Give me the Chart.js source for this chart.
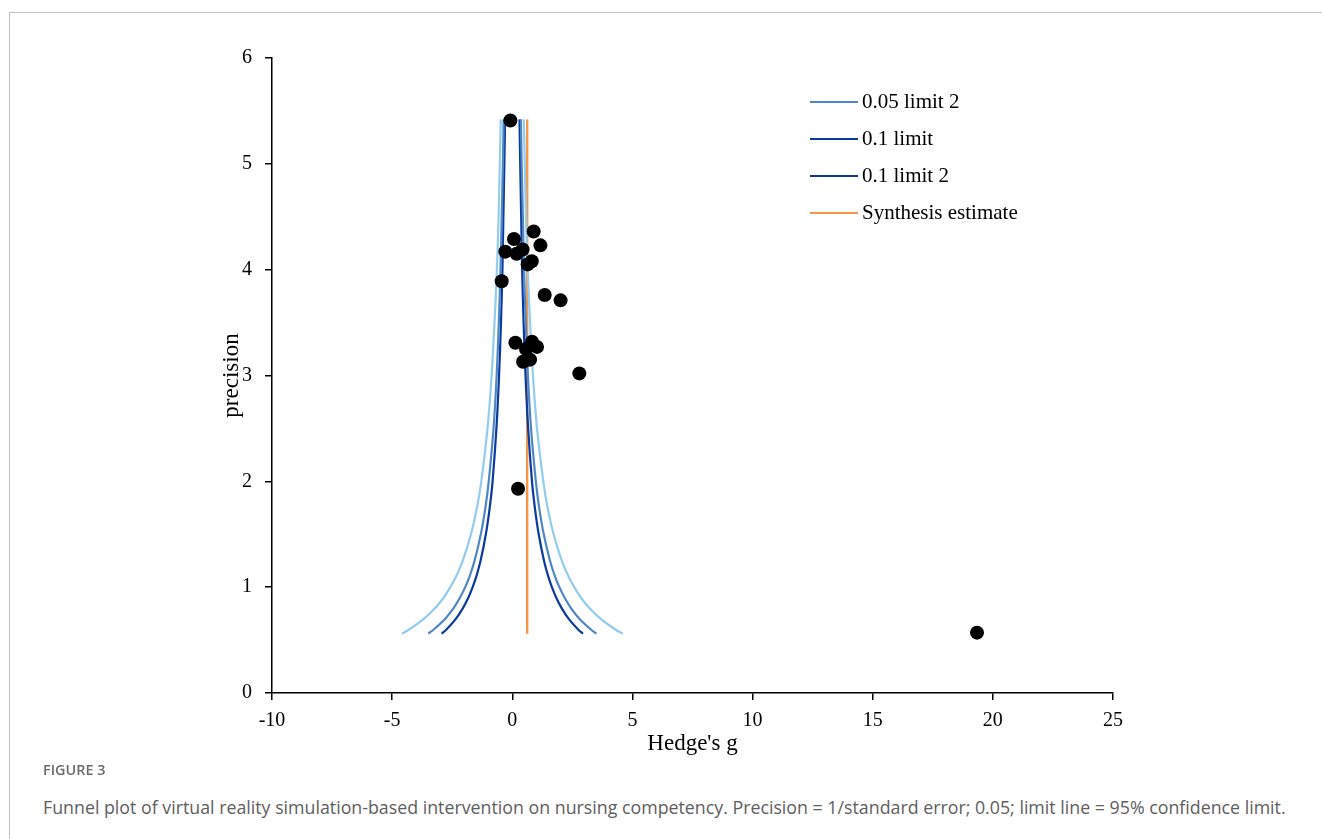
<!DOCTYPE html>
<html>
<head>
<meta charset="utf-8">
<script src="https://cdn.jsdelivr.net/npm/chart.js@4.4.1/dist/chart.umd.min.js"></script>
<style>
  html,body{margin:0;padding:0;background:#fff;}
  body{width:1322px;height:839px;position:relative;overflow:hidden;}
  .frame{position:absolute;left:9px;top:12px;width:1330px;height:840px;border-left:1.5px solid #c3c3c3;border-top:1.5px solid #c3c3c3;}
  #wrap{position:absolute;left:0;top:0;width:1322px;height:762px;}
  #legend{position:absolute;left:810px;top:83px;font-family:"Liberation Serif","Times New Roman",serif;font-size:21px;color:#000;}
  #legend .row{height:37px;display:flex;align-items:center;}
  #legend .swatch{width:48px;height:2px;margin-right:4px;}
  .fig{position:absolute;left:43px;top:760px;font-family:"Open Sans",sans-serif;font-weight:600;font-size:14.4px;color:#6a6a6a;}
  .cap{position:absolute;left:43px;top:795px;font-family:"Open Sans",sans-serif;font-size:17.8px;color:#5e5e5e;white-space:nowrap;}
</style>
</head>
<body>
<div class="frame"></div>
<div id="wrap"><canvas id="funnel"></canvas></div>
<div id="legend"></div>
<div class="fig">FIGURE 3</div>
<div class="cap">Funnel plot of virtual reality simulation-based intervention on nursing competency. Precision = 1/standard error; 0.05; limit line = 95% confidence limit.</div>
<script>
// study points: Hedge's g vs precision
const studyG = [-0.08, 0.89, 0.07, 1.17, -0.29, 0.43, 0.18, 0.81, 0.64, -0.44, 1.35, 2.01,
  0.13, 0.82, 1.03, 0.57, 0.45, 0.74, 2.79, 0.24, 19.34];
const studyPrec = [5.41, 4.36, 4.29, 4.23, 4.17, 4.19, 4.15, 4.08, 4.05, 3.89, 3.76, 3.71,
  3.31, 3.32, 3.27, 3.25, 3.13, 3.15, 3.02, 1.93, 0.57];

// funnel curves (precision levels, and the |g| of each limit at that level)
const curvePrec = [0.56, 0.6, 0.7, 0.8, 0.9, 1.0, 1.1, 1.25, 1.5, 1.75, 2.0, 2.5, 3.0, 3.5, 4.0, 4.5, 5.0, 5.42];
const limOuter = [4.60, 4.29, 3.68, 3.22, 2.86, 2.58, 2.34, 2.06, 1.72, 1.47, 1.29, 1.03, 0.86, 0.74, 0.64, 0.57, 0.52, 0.48];
const lim05 = [3.50, 3.27, 2.80, 2.45, 2.18, 1.96, 1.78, 1.57, 1.31, 1.12, 0.98, 0.78, 0.65, 0.56, 0.49, 0.44, 0.39, 0.36];
const lim10 = [2.94, 2.74, 2.35, 2.06, 1.83, 1.65, 1.50, 1.32, 1.10, 0.94, 0.82, 0.66, 0.55, 0.47, 0.41, 0.37, 0.33, 0.30];

const synthG = [0.62, 0.62];
const synthPrec = [0.56, 5.42];

const xTicks = [-10, -5, 0, 5, 10, 15, 20, 25];
const yTicks = [0, 1, 2, 3, 4, 5, 6];

const LIGHT = '#92cdee', MID = '#4f86c6', DARK = '#0b3a9e', ORANGE = '#f7964a';

function pts(xs, ys, sign){ return xs.map((x,i)=>({x: x*sign, y: ys[i]})); }
function curve(label, xs, sign, color, inLegend){
  return { label, data: pts(xs, curvePrec, sign), showLine:true, borderColor:color, backgroundColor:color,
    borderWidth:2.2, pointRadius:0, pointHoverRadius:0, tension:0.3, fill:false, inLegend };
}

const datasets = [
  { label:'Studies', data: pts(studyG, studyPrec, 1), pointRadius:7, pointHoverRadius:7,
    backgroundColor:'#000', borderColor:'#000', borderWidth:0, showLine:false, inLegend:false },
  curve('0.01 limit', limOuter, -1, LIGHT, false),
  curve('0.01 limit 2', limOuter, 1, LIGHT, false),
  curve('0.05 limit', lim05, -1, MID, false),
  curve('0.05 limit 2', lim05, 1, MID, true),
  curve('0.1 limit', lim10, -1, DARK, true),
  curve('0.1 limit 2', lim10, 1, DARK, true),
  { label:'Synthesis estimate', data: pts(synthG, synthPrec, 1), showLine:true, borderColor:ORANGE,
    backgroundColor:ORANGE, borderWidth:2.4, pointRadius:0, pointHoverRadius:0, inLegend:true }
];

const serif = '"Liberation Serif","Times New Roman",serif';

const chart = new Chart(document.getElementById('funnel'), {
  type:'scatter',
  data:{ datasets },
  options:{
    responsive:true, maintainAspectRatio:false, animation:false,
    layout:{ padding:{ left:216, top:58, right:209, bottom:0 } },
    plugins:{ legend:{ display:false }, tooltip:{ enabled:false } },
    scales:{
      x:{
        type:'linear', min:-10, max:25,
        afterBuildTicks: s => { s.ticks = xTicks.map(v=>({value:v})); },
        afterFit: s => { s.height = 69; },
        grid:{ drawOnChartArea:false, drawTicks:true, tickLength:7, color:'#000', lineWidth:1.5 },
        border:{ color:'#000', width:1.5 },
        ticks:{ color:'#000', font:{ family:serif, size:20 }, padding:9, maxRotation:0 },
        title:{ display:true, text:"Hedge's g", color:'#000', font:{ family:serif, size:23 }, padding:{top:0,bottom:4} }
      },
      y:{
        type:'linear', min:0, max:6,
        afterBuildTicks: s => { s.ticks = yTicks.map(v=>({value:v})); },
        afterFit: s => { s.width = 56; },
        grid:{ drawOnChartArea:false, drawTicks:true, tickLength:7, color:'#000', lineWidth:1.5 },
        border:{ color:'#000', width:1.5 },
        ticks:{ color:'#000', font:{ family:serif, size:20 }, padding:13 },
        title:{ display:true, text:'precision', color:'#000', font:{ family:serif, size:23 }, padding:{top:2,bottom:0} }
      }
    }
  }
});

// legend built from the flagged datasets
const lg = document.getElementById('legend');
chart.data.datasets.filter(d=>d.inLegend).forEach(d=>{
  const row = document.createElement('div'); row.className='row';
  const sw = document.createElement('span'); sw.className='swatch'; sw.style.background=d.borderColor;
  const t = document.createElement('span'); t.textContent=d.label;
  row.appendChild(sw); row.appendChild(t); lg.appendChild(row);
});
</script>
</body>
</html>
